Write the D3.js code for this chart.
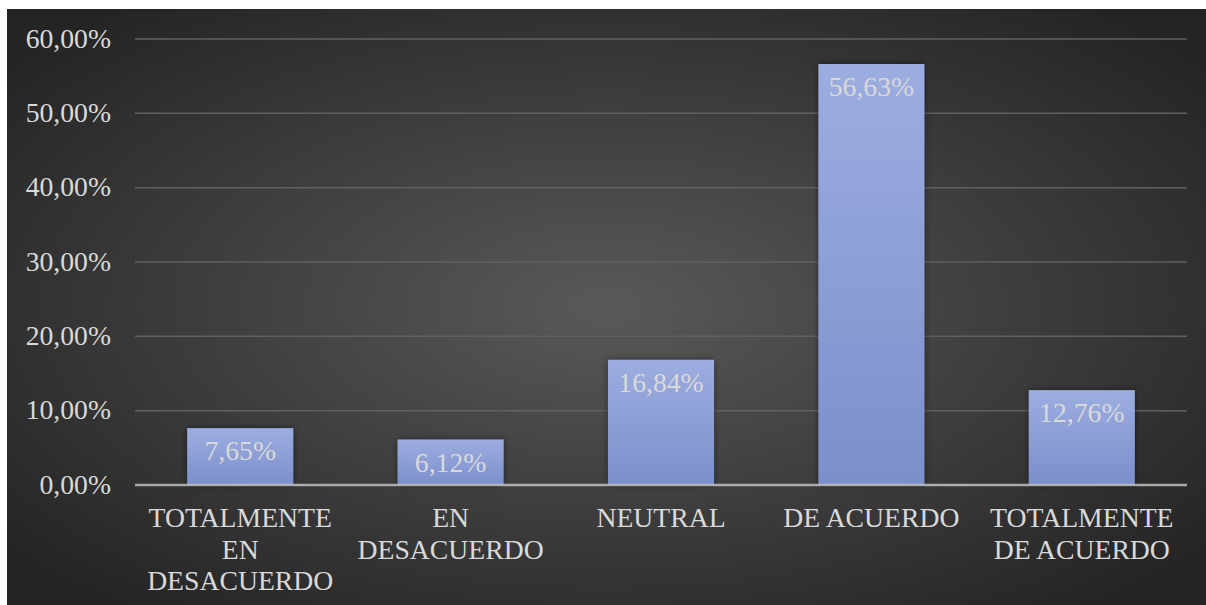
<!DOCTYPE html>
<html>
<head>
<meta charset="utf-8">
<script src="https://cdn.jsdelivr.net/npm/d3@7"></script>
<style>
  body { margin: 0; background: #fff; }
</style>
</head>
<body>
<script>
// data
var categories = [["TOTALMENTE", "EN", "DESACUERDO"], ["EN", "DESACUERDO"], ["NEUTRAL"], ["DE ACUERDO"], ["TOTALMENTE", "DE ACUERDO"]]
var values = [7.65, 6.12, 16.84, 56.63, 12.76]
var yTicks = [0, 10, 20, 30, 40, 50, 60]

var W = 1206, H = 605
var margin = {top: 39, right: 19, bottom: 120, left: 135}
var width = W - margin.left - margin.right,
    height = 485 - margin.top
var serif = "'Times New Roman', 'Liberation Serif', 'DejaVu Serif', serif"
var fontSize = 27.7

var fmt = function(v) { return v.toFixed(2).replace(".", ",") + "%" }

var svg = d3.select("body").append("svg")
    .attr("width", W)
    .attr("height", H)
    .attr("font-family", serif)

var defs = svg.append("defs")

// background gradient
var bg = defs.append("radialGradient").attr("id", "bg")
    .attr("cx", "50%").attr("cy", "50%").attr("r", "65%")
bg.append("stop").attr("offset", "0%").attr("stop-color", "#595959")
bg.append("stop").attr("offset", "100%").attr("stop-color", "#242424")

// bar gradient
var bar = defs.append("linearGradient").attr("id", "bar")
    .attr("x1", 0).attr("y1", 0).attr("x2", 0).attr("y2", 1)
bar.append("stop").attr("offset", "0%").attr("stop-color", "#9cade0")
bar.append("stop").attr("offset", "100%").attr("stop-color", "#7b8fcb")

var shadow = defs.append("filter").attr("id", "shadow")
    .attr("x", "-20%").attr("y", "-20%").attr("width", "140%").attr("height", "140%")
shadow.append("feDropShadow")
    .attr("dx", 0).attr("dy", 0).attr("stdDeviation", 3)
    .attr("flood-color", "#000").attr("flood-opacity", 0.5)

svg.append("rect")
    .attr("x", 7).attr("y", 9)
    .attr("width", W - 7).attr("height", H - 9)
    .attr("fill", "url(#bg)")

var chart = svg.append("g")
    .attr("transform", "translate(" + margin.left + "," + margin.top + ")")

var x = d3.scaleBand()
    .domain(d3.range(values.length))
    .range([0, width])
    .paddingInner(0.496)
    .paddingOuter(0.248)

var y = d3.scaleLinear().domain([0, 60]).range([height, 0])

// gridlines
chart.append("g")
  .selectAll("line")
  .data(yTicks.slice(1))
  .enter().append("line")
    .attr("x1", 0).attr("x2", width)
    .attr("y1", function(d) { return y(d) })
    .attr("y2", function(d) { return y(d) })
    .attr("stroke", "#606060")
    .attr("stroke-width", 1.5)

// y axis labels
chart.append("g")
  .selectAll("text")
  .data(yTicks)
  .enter().append("text")
    .attr("x", -24)
    .attr("y", function(d) { return y(d) })
    .attr("dy", "0.31em")
    .attr("text-anchor", "end")
    .attr("fill", "#d9d9d9")
    .attr("font-family", serif)
    .attr("font-size", fontSize)
    .text(function(d) { return fmt(d) })

// bars
chart.append("g")
  .selectAll("rect")
  .data(values)
  .enter().append("rect")
    .attr("x", function(d, i) { return x(i) })
    .attr("y", function(d) { return y(d) })
    .attr("width", x.bandwidth())
    .attr("height", function(d) { return height - y(d) })
    .attr("fill", "url(#bar)")
    .attr("filter", "url(#shadow)")

// axis line
chart.append("line")
    .attr("x1", 0).attr("x2", width)
    .attr("y1", height).attr("y2", height)
    .attr("stroke", "#bfbfbf")
    .attr("stroke-opacity", 0.85)
    .attr("stroke-width", 2.5)

// value labels
chart.append("g")
  .selectAll("text")
  .data(values)
  .enter().append("text")
    .attr("x", function(d, i) { return x(i) + x.bandwidth() / 2 })
    .attr("y", function(d) { return y(d) + 32 })
    .attr("text-anchor", "middle")
    .attr("fill", "#d9d9d9")
    .attr("font-family", serif)
    .attr("font-size", fontSize)
    .text(function(d) { return fmt(d) })

// category labels
var cats = chart.append("g")
  .selectAll("text")
  .data(categories)
  .enter().append("text")
    .attr("x", function(d, i) { return x(i) + x.bandwidth() / 2 })
    .attr("y", height + 42)
    .attr("text-anchor", "middle")
    .attr("fill", "#d9d9d9")
    .attr("font-family", serif)
    .attr("font-size", fontSize)

cats.selectAll("tspan")
  .data(function(d) { return d })
  .enter().append("tspan")
    .attr("x", function() { return d3.select(this.parentNode).attr("x") })
    .attr("dy", function(d, i) { return i === 0 ? 0 : 31.5 })
    .text(function(d) { return d })
</script>
</body>
</html>
